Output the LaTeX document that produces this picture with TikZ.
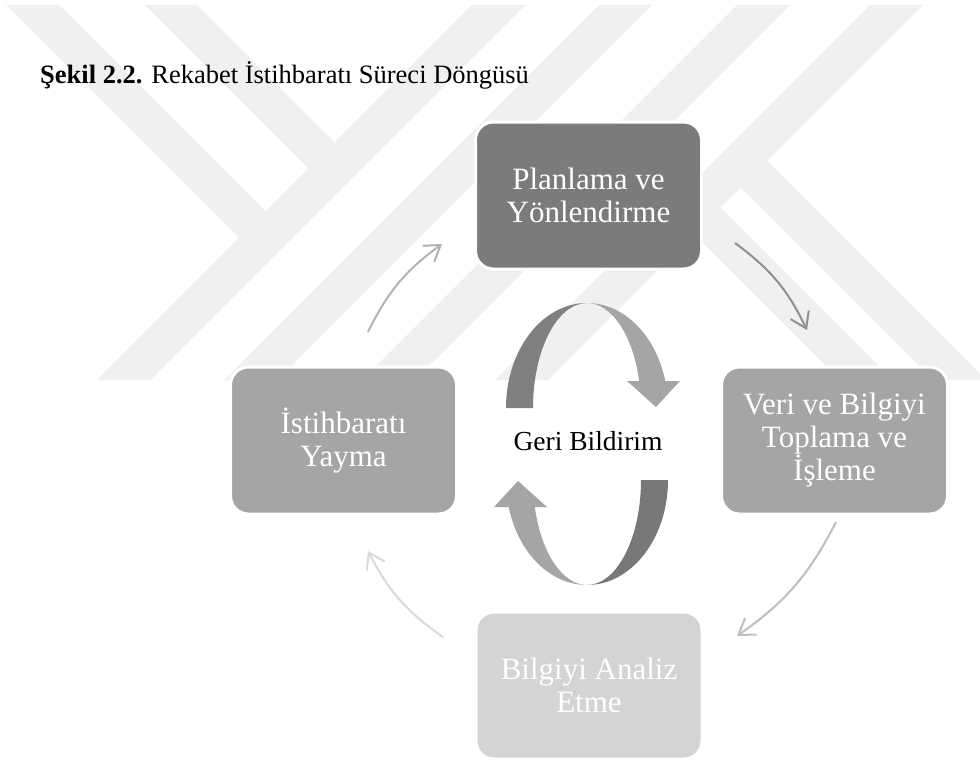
\documentclass[tikz,border=0pt]{standalone}
\usepackage{fontspec}
\setmainfont{Liberation Serif}
\usetikzlibrary{arrows.meta}

\definecolor{wm}{RGB}{240,240,240}
\definecolor{stageDark}{RGB}{123,123,123}
\definecolor{stageMid}{RGB}{165,165,165}
\definecolor{stageLight}{RGB}{212,212,212}
\definecolor{arrPV}{RGB}{143,143,143}
\definecolor{arrVA}{RGB}{190,190,190}
\definecolor{arrAY}{RGB}{218,218,218}
\definecolor{arrYP}{RGB}{178,178,178}
\definecolor{fbDark}{RGB}{128,128,128}
\definecolor{fbDarker}{RGB}{120,120,120}
\definecolor{fbLight}{RGB}{165,165,165}

\tikzset{
  stage/.style={draw=white, line width=3pt, rounded corners=18pt,
    minimum width=226pt, minimum height=147pt, inner sep=0pt,
    align=center, text=white, font=\fontsize{31}{33}\selectfont},
  cyc/.style={line width=2pt, -{Straight Barb[length=15pt,width=20pt]}},
}

\begin{document}
\begin{tikzpicture}[x=1pt,y=-1pt]
\useasboundingbox (0,0) rectangle (980,760);
\fill[white] (0,0) rectangle (980,760);

% faint background emblem made of diagonal bands
\begin{scope}
  \clip (0,5) rectangle (980,380);
  \fill[wm] (6,5) -- (59,5) -- (278.75,224.75) -- (252.25,251.25) -- cycle;
  \fill[wm] (145,5) -- (197,5) -- (347.75,155.75) -- (321.75,181.75) -- cycle;
  \fill[wm] (472,5) -- (525,5) -- (150,380) -- (97,380) -- cycle;
  \fill[wm] (599,5) -- (652,5) -- (277,380) -- (224,380) -- cycle;
  \fill[wm] (737,5) -- (790,5) -- (415,380) -- (362,380) -- cycle;
  \fill[wm] (870,5) -- (923,5) -- (548,380) -- (495,380) -- cycle;
  \fill[wm] (727,174) -- (753.75,147.75) -- (986.25,380) -- (933,380) -- cycle;
  \fill[wm] (614,154) -- (640.75,127.75) -- (893,380) -- (840,380) -- cycle;
\end{scope}

% caption
\node[anchor=base west, inner sep=0pt, font=\fontsize{26.5}{30}\selectfont]
  (caption) at (40,84) {\textbf{Şekil 2.2.} Rekabet İstihbaratı Süreci Döngüsü};

% stages of the cycle
\node[stage, fill=stageDark]  (plan)   at (588.5,195.5) {Planlama ve\\Yönlendirme};
\node[stage, fill=stageMid]   (veri)   at (834.5,440.5) {Veri ve Bilgiyi\\Toplama ve\\İşleme};
\node[stage, fill=stageLight] (analiz) at (589,685.5)   {Bilgiyi Analiz\\Etme};
\node[stage, fill=stageMid]   (yayma)  at (343.5,440.5) {İstihbaratı\\Yayma};

% curved connectors between the stages
\coordinate (pv-s) at (735,243);  \coordinate (pv-e) at (807,330);
\coordinate (va-s) at (836,522);  \coordinate (va-e) at (737,636);
\coordinate (ay-s) at (443,637);  \coordinate (ay-e) at (368,551);
\coordinate (yp-s) at (368,332);  \coordinate (yp-e) at (442,244);
\draw[cyc, draw=arrPV] (pv-s) to[bend left=14] (pv-e);
\draw[cyc, draw=arrVA] (va-s) to[bend left=14] (va-e);
\draw[cyc, draw=arrAY] (ay-s) to[bend left=14] (ay-e);
\draw[cyc, draw=arrYP] (yp-s) to[bend left=14] (yp-e);

% feedback ribbon arrows in the middle
% upper ribbon: left half (darker)
\fill[fbDark] (506,408) arc[start angle=180, end angle=270, x radius=81, y radius=105]
  arc[start angle=270, end angle=180, x radius=54, y radius=105] -- cycle;
% upper ribbon: right half with head (lighter)
\fill[fbLight] (587,303) arc[start angle=270, end angle=345.1, x radius=81, y radius=105]
  -- (680,381) -- (656,407) -- (627,381) -- (639.2,381)
  arc[start angle=345.1, end angle=270, x radius=54, y radius=105] -- cycle;
% lower ribbon: right half (darker)
\fill[fbDarker] (668,480) arc[start angle=0, end angle=90, x radius=81, y radius=105]
  arc[start angle=90, end angle=0, x radius=54, y radius=105] -- cycle;
% lower ribbon: left half with head (lighter)
\fill[fbLight] (587,585) arc[start angle=90, end angle=165.1, x radius=81, y radius=105]
  -- (494,507) -- (518,481) -- (547,507) -- (534.8,507)
  arc[start angle=165.1, end angle=90, x radius=54, y radius=105] -- cycle;

\node[anchor=base, inner sep=0pt, font=\fontsize{27.5}{30}\selectfont]
  (feedback) at (588,450) {Geri Bildirim};
\end{tikzpicture}
\end{document}
